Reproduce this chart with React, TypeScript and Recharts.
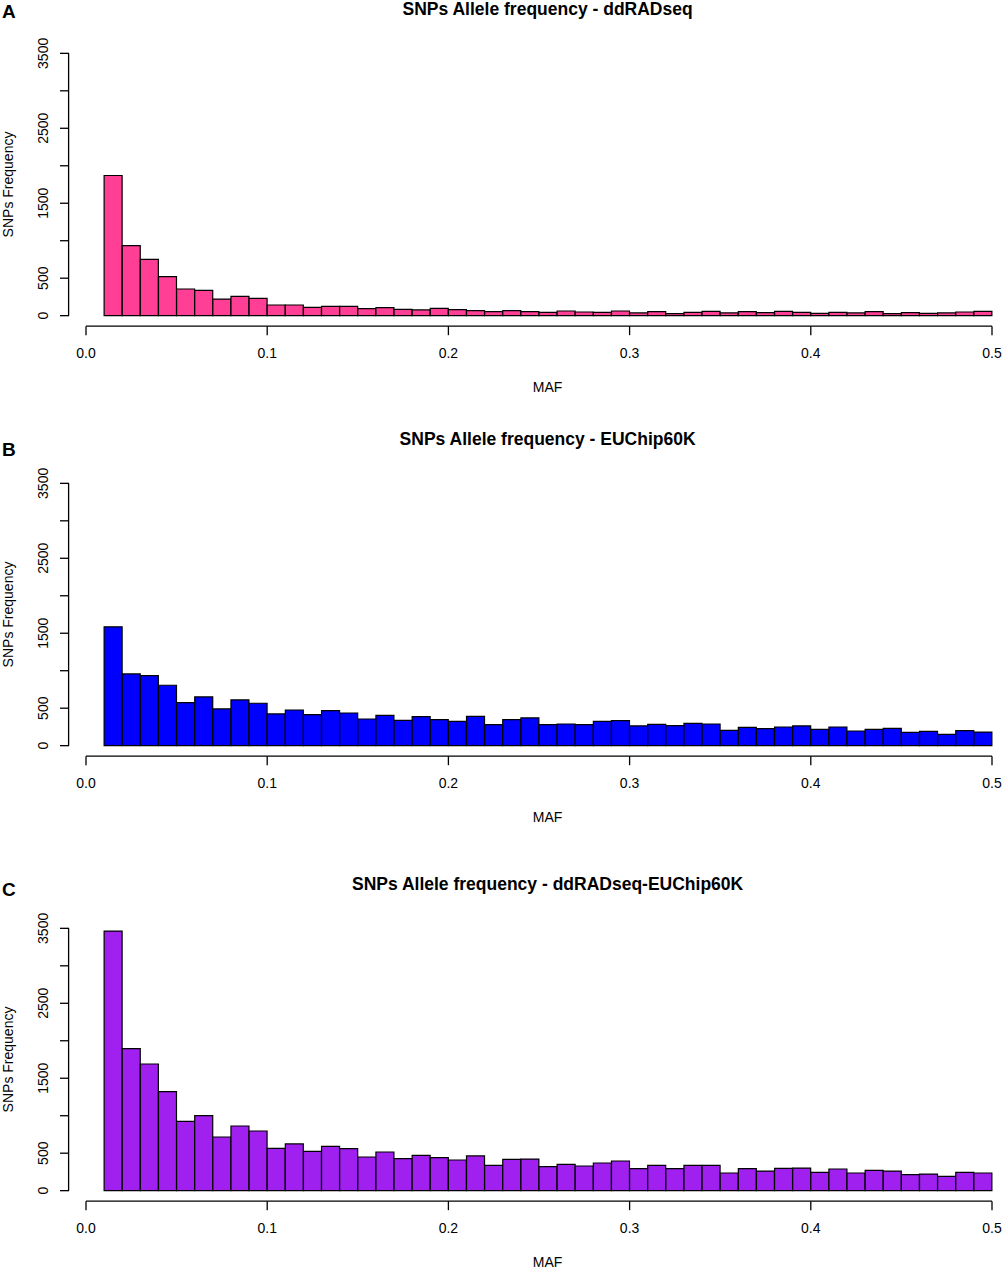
import React from 'react';
import { BarChart, Bar, XAxis, YAxis, ReferenceLine } from 'recharts';

// MAF bins of width 0.01, from 0.01 to 0.5 (bin midpoints)
const BIN_MIDS = [
  0.015, 0.025, 0.035, 0.045, 0.055, 0.065, 0.075, 0.085, 0.095, 0.105,
  0.115, 0.125, 0.135, 0.145, 0.155, 0.165, 0.175, 0.185, 0.195, 0.205,
  0.215, 0.225, 0.235, 0.245, 0.255, 0.265, 0.275, 0.285, 0.295, 0.305,
  0.315, 0.325, 0.335, 0.345, 0.355, 0.365, 0.375, 0.385, 0.395, 0.405,
  0.415, 0.425, 0.435, 0.445, 0.455, 0.465, 0.475, 0.485, 0.495,
];

const DDRAD = [
  1870, 934, 752, 520, 356, 338, 222, 258, 230, 142,
  142, 111, 125, 125, 95, 107, 85, 76, 98, 80,
  67, 53, 67, 53, 44, 62, 49, 44, 62, 36,
  53, 27, 44, 58, 36, 53, 40, 58, 44, 31,
  44, 36, 53, 27, 40, 31, 36, 49, 58,
];

const EUCHIP = [
  1585, 957, 935, 806, 574, 650, 490, 610, 566, 423,
  476, 414, 468, 436, 356, 405, 338, 387, 347, 325,
  392, 281, 347, 370, 281, 289, 281, 325, 334, 263,
  285, 267, 298, 289, 205, 245, 227, 249, 263, 218,
  249, 196, 218, 232, 178, 191, 151, 200, 182,
];

const COMBINED = [
  3464, 1894, 1690, 1321, 925, 1001, 716, 863, 796, 565,
  623, 525, 591, 560, 449, 516, 427, 471, 440, 409,
  463, 338, 418, 422, 320, 351, 329, 369, 396, 294,
  338, 294, 338, 338, 236, 294, 262, 298, 302, 245,
  289, 236, 271, 262, 213, 222, 191, 245, 236,
];

const X_TICKS = [0, 0.1, 0.2, 0.3, 0.4, 0.5];
const Y_TICKS = [0, 500, 1000, 1500, 2000, 2500, 3000, 3500];
const Y_LABELED = [0, 500, 1500, 2500, 3500];

const FONT = '"Liberation Sans", Arial, Helvetica, sans-serif';

// R-like plot region: 4% padding around the data ranges
const Y_MAX = 3500;
const Y_PAD = 0.04 * Y_MAX;
const Y_AXIS_POS = 0.01 - 0.04 * (0.5 - 0.01);
const Y_AXIS_PX = 69;

const PANELS = [
  { letter: 'A', title: 'SNPs Allele frequency - ddRADseq', values: DDRAD, color: '#FF3E96', top: 0, letterY: 17.5 },
  { letter: 'B', title: 'SNPs Allele frequency - EUChip60K', values: EUCHIP, color: '#0000FF', top: 430, letterY: 25.5 },
  { letter: 'C', title: 'SNPs Allele frequency - ddRADseq-EUChip60K', values: COMBINED, color: '#A020F0', top: 875, letterY: 21 },
];

const renderYTick = (props: any) => {
  const { y, payload } = props;
  const labelX = 48;
  return (
    <g>
      <line x1={Y_AXIS_PX} x2={Y_AXIS_PX - 9} y1={y} y2={y} stroke="#000" strokeWidth={1.3} />
      {Y_LABELED.includes(payload.value) && (
        <text
          x={labelX}
          y={y}
          transform={`rotate(-90 ${labelX} ${y})`}
          textAnchor="middle"
          fontSize={14}
          fontFamily={FONT}
          fill="#000"
        >
          {payload.value}
        </text>
      )}
    </g>
  );
};

const renderXLabel = (props: any) => {
  const vb = props.viewBox;
  return (
    <text x={vb.x + vb.width / 2 + 8.6} y={vb.y + 65.5} textAnchor="middle" fontSize={14} fontFamily={FONT} fill="#000">
      MAF
    </text>
  );
};

const renderYLabel = (props: any) => {
  const vb = props.viewBox;
  const cx = 13;
  const cy = vb.y + vb.height / 2;
  return (
    <text x={cx} y={cy} transform={`rotate(-90 ${cx} ${cy})`} textAnchor="middle" fontSize={14} fontFamily={FONT} fill="#000">
      SNPs Frequency
    </text>
  );
};

function Histogram({ panel }: { panel: any }) {
  const data = BIN_MIDS.map((mid, i) => ({ mid, count: panel.values[i] }));
  return (
    <div style={{ position: 'absolute', left: 0, top: panel.top, width: 1003, height: 395 }}>
      <BarChart
        width={1003}
        height={395}
        data={data}
        margin={{ top: 42.84, right: 11, bottom: 0, left: 0 }}
        barCategoryGap={0}
        barGap={0}
      >
        <XAxis
          type="number"
          dataKey="mid"
          domain={[0, 0.5]}
          ticks={X_TICKS}
          interval={0}
          tickFormatter={(v: number) => v.toFixed(1)}
          height={68.84}
          tickSize={9}
          tickMargin={13}
          axisLine={{ stroke: '#000', strokeWidth: 1.3 }}
          tickLine={{ stroke: '#000', strokeWidth: 1.3 }}
          tick={{ fill: '#000', fontSize: 14, fontFamily: FONT }}
          label={renderXLabel}
        />
        <YAxis
          type="number"
          domain={[-Y_PAD, Y_MAX + Y_PAD]}
          ticks={Y_TICKS}
          interval={0}
          width={86}
          axisLine={false}
          tickLine={false}
          tick={renderYTick}
          label={renderYLabel}
        />
        <ReferenceLine
          segment={[{ x: Y_AXIS_POS, y: 0 }, { x: Y_AXIS_POS, y: Y_MAX }]}
          stroke="#000"
          strokeWidth={1.3}
          ifOverflow="visible"
        />
        <Bar dataKey="count" fill={panel.color} stroke="#000" strokeWidth={1.2} isAnimationActive={false} />
      </BarChart>
      <svg width={1003} height={40} style={{ position: 'absolute', left: 0, top: 0, pointerEvents: 'none' }}>
        <text x={547.6} y={15.3} textAnchor="middle" fontSize={17.5} fontWeight="bold" fontFamily={FONT} fill="#000">
          {panel.title}
        </text>
        <text x={2} y={panel.letterY} fontSize={19} fontWeight="bold" fontFamily={FONT} fill="#000">
          {panel.letter}
        </text>
      </svg>
    </div>
  );
}

export default function App() {
  return (
    <div style={{ position: 'absolute', left: 0, top: 0, width: 1003, height: 1270, background: '#fff' }}>
      {PANELS.map((p) => (
        <Histogram key={p.letter} panel={p} />
      ))}
    </div>
  );
}
